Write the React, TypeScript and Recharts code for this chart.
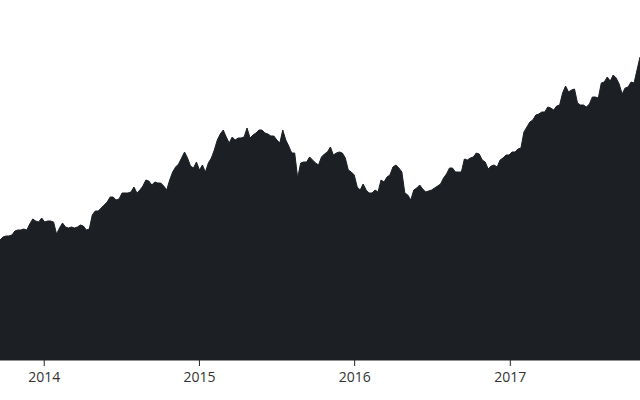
import React from 'react';
import { AreaChart, Area, XAxis, YAxis } from 'recharts';

// Weekly closing values, first week starting 2013-09-19
const startDate = '2013-09-19';
const weeklyValues = [
  120, 123, 124, 124, 125, 129, 130, 130, 131, 130,
  136, 141, 139, 138, 142, 138, 139, 139, 138, 126,
  132, 137, 133, 132, 133, 132, 133, 135, 134, 130,
  131, 145, 149, 149, 152, 155, 158, 163, 163, 160,
  161, 167, 167, 167, 168, 173, 167, 170, 174, 180,
  179, 175, 178, 177, 177, 174, 170, 180, 188, 193,
  196, 202, 208, 202, 194, 192, 198, 190, 195, 188,
  197, 202, 210, 220, 226, 230, 223, 217, 223, 220,
  222, 222, 223, 232, 222, 225, 227, 230, 230, 227,
  226, 224, 224, 220, 217, 230, 220, 214, 207, 207,
  182, 197, 198, 198, 203, 200, 197, 195, 203, 206,
  208, 213, 205, 207, 208, 207, 202, 190, 188, 185,
  173, 170, 176, 170, 167, 167, 170, 168, 180, 178,
  183, 185, 193, 195, 192, 188, 167, 165, 160, 170,
  172, 175, 171, 168, 169, 170, 172, 174, 176, 182,
  186, 192, 192, 188, 188, 188, 201, 200, 202, 203,
  207, 206, 200, 198, 191, 194, 195, 193, 200, 202,
  205, 205, 208, 208, 211, 212, 228, 233, 238, 240,
  245, 246, 248, 248, 253, 252, 250, 254, 255, 267,
  274, 268, 270, 271, 257, 255, 255, 253, 256, 263,
  263, 262, 277, 278, 283, 279, 285, 282, 276, 266,
  272, 273, 278, 277, 290, 303,
];
const tickYears = [2014, 2015, 2016, 2017];
const tickLabels = ['2014', '2015', '2016', '2017'];

const DAY = 24 * 60 * 60 * 1000;
const start = Date.parse(startDate + 'T00:00:00Z');
const data = weeklyValues.map((v, i) => ({ date: start + i * 7 * DAY, value: v }));
const ticks = tickYears.map((y) => Date.UTC(y, 0, 1));
const labelFor = (t: number) => {
  const idx = ticks.indexOf(t);
  return idx >= 0 ? tickLabels[idx] : '';
};

export default function App() {
  return (
    <div style={{ position: 'absolute', left: 0, top: 0, width: 640, height: 400 }}>
      <AreaChart width={640} height={400} data={data} margin={{ top: 0, right: 0, bottom: 0, left: 0 }}>
        <XAxis
          dataKey="date"
          type="number"
          scale="time"
          domain={['dataMin', 'dataMax']}
          ticks={ticks}
          tickFormatter={labelFor}
          height={40}
          tickSize={6}
          tickMargin={6}
          axisLine={{ stroke: '#222222', strokeWidth: 1 }}
          tickLine={{ stroke: '#222222', strokeWidth: 1 }}
          tick={{ fill: '#333333', fontSize: 14, fontFamily: 'Open Sans' }}
        />
        <YAxis hide domain={[0, 360]} />
        <Area
          type="linear"
          dataKey="value"
          stroke="#1c1f24"
          strokeWidth={1}
          fill="#1c1f24"
          fillOpacity={1}
          isAnimationActive={false}
          dot={false}
          activeDot={false}
        />
      </AreaChart>
    </div>
  );
}
